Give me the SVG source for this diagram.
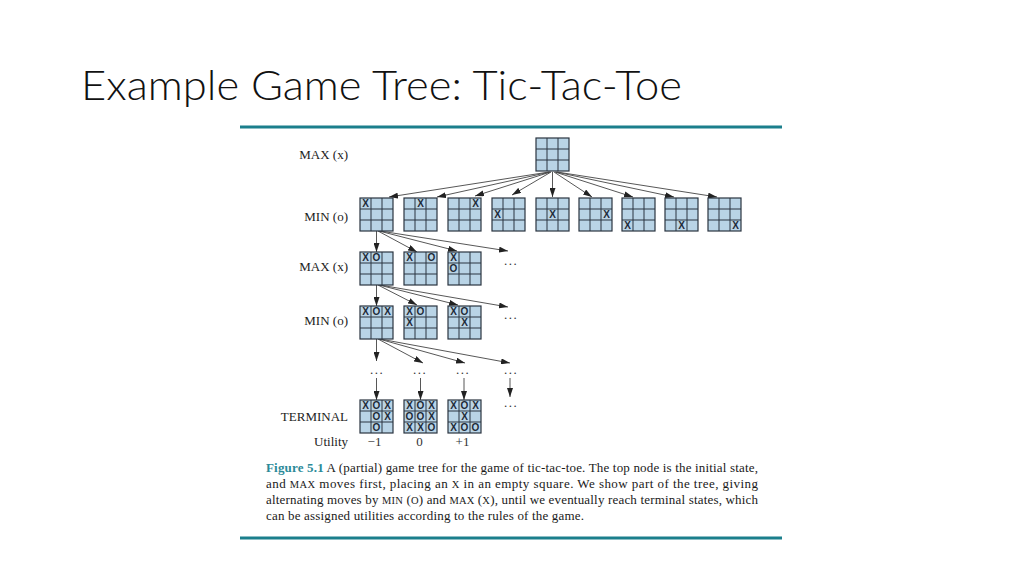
<svg xmlns="http://www.w3.org/2000/svg" xmlns:xlink="http://www.w3.org/1999/xlink" width="1024" height="576" viewBox="0 0 1024 576">
<style>
.title{font-family:Lato,"Open Sans","Liberation Sans",sans-serif;font-weight:300;font-size:42px;fill:#111}
.lbl{font-family:"Liberation Serif","DejaVu Serif",serif;font-size:13px;fill:#222}
.val{font-family:"Liberation Serif","DejaVu Serif",serif;font-size:13px;fill:#333;text-anchor:middle}
.dots{font-family:"Liberation Serif",serif;font-size:13px;fill:#333;text-anchor:middle;letter-spacing:1.5px}
.g{font-family:"Liberation Sans","DejaVu Sans",sans-serif;font-weight:bold;font-size:10px;fill:#1e2a38;text-anchor:middle;dominant-baseline:central}
.cap{font-family:"Liberation Serif","DejaVu Serif",serif;font-size:13px;fill:#1a1a1a}
.sc{font-size:10.5px}
.fig{fill:#2b8a98;font-weight:bold}
.rule{stroke:#1b7f8c;stroke-width:3}
.edge{stroke:#444;stroke-width:0.9;fill:none;marker-end:url(#ah)}
</style>
<defs>
<marker id="ah" markerWidth="9" markerHeight="6" refX="9" refY="3" orient="auto" markerUnits="userSpaceOnUse"><path d="M0,0 L9,3 L0,6 z" fill="#222"/></marker>
<g id="board">
<rect x="0" y="0" width="33" height="33" fill="#b9d4e6" stroke="#2a3440" stroke-width="1.2"/>
<path d="M11,0 V33 M22,0 V33 M0,11 H33 M0,22 H33" stroke="#2a3440" stroke-width="1"/>
</g>
</defs>
<rect width="1024" height="576" fill="#fff"/>
<text class="title" x="81" y="100" textLength="601" lengthAdjust="spacingAndGlyphs">Example Game Tree: Tic-Tac-Toe</text>
<line class="rule" x1="240" y1="127" x2="782" y2="127"/>
<line class="rule" x1="240" y1="538" x2="782" y2="538"/>

<g id="labels" class="lbl" text-anchor="end">
<text x="348" y="158.5">MAX (x)</text>
<text x="348" y="220.5">MIN (o)</text>
<text x="348" y="270.5">MAX (x)</text>
<text x="348" y="325">MIN (o)</text>
<text x="348" y="421">TERMINAL</text>
<text x="348" y="446">Utility</text>
</g>

<g id="connectors">
<line class="edge" x1="549" y1="172" x2="389" y2="197"/>
<line class="edge" x1="550" y1="172" x2="437" y2="197"/>
<line class="edge" x1="550.5" y1="172" x2="475" y2="196"/>
<line class="edge" x1="551" y1="172" x2="512" y2="195"/>
<line class="edge" x1="552.5" y1="172" x2="552.5" y2="197"/>
<line class="edge" x1="554" y1="172" x2="592" y2="197"/>
<line class="edge" x1="555" y1="172" x2="633" y2="197"/>
<line class="edge" x1="556" y1="172" x2="674" y2="197"/>
<line class="edge" x1="557" y1="172" x2="717" y2="197"/>

<line class="edge" x1="376.5" y1="231" x2="376.5" y2="252"/>
<line class="edge" x1="378" y1="231" x2="417" y2="252"/>
<line class="edge" x1="379" y1="231" x2="457" y2="251"/>
<line class="edge" x1="380" y1="231" x2="508" y2="251"/>

<line class="edge" x1="376.5" y1="285" x2="376.5" y2="306"/>
<line class="edge" x1="378" y1="285" x2="417" y2="305"/>
<line class="edge" x1="379" y1="285" x2="458" y2="305"/>
<line class="edge" x1="380" y1="285" x2="508" y2="307"/>

<line class="edge" x1="376.5" y1="339" x2="376.5" y2="361"/>
<line class="edge" x1="378" y1="339" x2="423" y2="363"/>
<line class="edge" x1="379" y1="339" x2="465" y2="363"/>
<line class="edge" x1="380" y1="339" x2="510" y2="363"/>

<line class="edge" x1="376.5" y1="378" x2="376.5" y2="400"/>
<line class="edge" x1="420.5" y1="378" x2="420.5" y2="400"/>
<line class="edge" x1="464" y1="378" x2="464" y2="400"/>
<line class="edge" x1="510" y1="378" x2="510" y2="397"/>
</g>

<g id="n-root"><use xlink:href="#board" x="536" y="138"/></g>

<g id="n-min1"><use xlink:href="#board" x="360" y="198"/><text class="g" x="365.5" y="203.5">X</text></g>
<g id="n-min2"><use xlink:href="#board" x="404" y="198"/><text class="g" x="420.5" y="203.5">X</text></g>
<g id="n-min3"><use xlink:href="#board" x="448" y="198"/><text class="g" x="475.5" y="203.5">X</text></g>
<g id="n-min4"><use xlink:href="#board" x="492" y="198"/><text class="g" x="497.5" y="214.5">X</text></g>
<g id="n-min5"><use xlink:href="#board" x="536" y="198"/><text class="g" x="552.5" y="214.5">X</text></g>
<g id="n-min6"><use xlink:href="#board" x="579" y="198"/><text class="g" x="606.5" y="214.5">X</text></g>
<g id="n-min7"><use xlink:href="#board" x="622" y="198"/><text class="g" x="627.5" y="225.5">X</text></g>
<g id="n-min8"><use xlink:href="#board" x="665" y="198"/><text class="g" x="681.5" y="225.5">X</text></g>
<g id="n-min9"><use xlink:href="#board" x="708" y="198"/><text class="g" x="735.5" y="225.5">X</text></g>

<g id="n-max1"><use xlink:href="#board" x="360" y="252"/><text class="g" x="365.5" y="257.5">X</text><text class="g" x="376.5" y="257.5">O</text></g>
<g id="n-max2"><use xlink:href="#board" x="404" y="252"/><text class="g" x="409.5" y="257.5">X</text><text class="g" x="431.5" y="257.5">O</text></g>
<g id="n-max3"><use xlink:href="#board" x="448" y="252"/><text class="g" x="453.5" y="257.5">X</text><text class="g" x="453.5" y="268.5">O</text></g>
<text class="dots" x="511" y="265">...</text>

<g id="n-min21"><use xlink:href="#board" x="360" y="306"/><text class="g" x="365.5" y="311.5">X</text><text class="g" x="376.5" y="311.5">O</text><text class="g" x="387.5" y="311.5">X</text></g>
<g id="n-min22"><use xlink:href="#board" x="404" y="306"/><text class="g" x="409.5" y="311.5">X</text><text class="g" x="420.5" y="311.5">O</text><text class="g" x="409.5" y="322.5">X</text></g>
<g id="n-min23"><use xlink:href="#board" x="448" y="306"/><text class="g" x="453.5" y="311.5">X</text><text class="g" x="464.5" y="311.5">O</text><text class="g" x="464.5" y="322.5">X</text></g>
<text class="dots" x="511" y="319">...</text>

<text class="dots" x="377" y="374">...</text>
<text class="dots" x="420" y="374">...</text>
<text class="dots" x="463" y="374">...</text>
<text class="dots" x="511" y="374">...</text>
<text class="dots" x="511" y="407">...</text>

<g id="n-t1"><use xlink:href="#board" x="360" y="400"/>
<text class="g" x="365.5" y="405.5">X</text><text class="g" x="376.5" y="405.5">O</text><text class="g" x="387.5" y="405.5">X</text>
<text class="g" x="376.5" y="416.5">O</text><text class="g" x="387.5" y="416.5">X</text>
<text class="g" x="376.5" y="427.5">O</text></g>
<g id="n-t2"><use xlink:href="#board" x="404" y="400"/>
<text class="g" x="409.5" y="405.5">X</text><text class="g" x="420.5" y="405.5">O</text><text class="g" x="431.5" y="405.5">X</text>
<text class="g" x="409.5" y="416.5">O</text><text class="g" x="420.5" y="416.5">O</text><text class="g" x="431.5" y="416.5">X</text>
<text class="g" x="409.5" y="427.5">X</text><text class="g" x="420.5" y="427.5">X</text><text class="g" x="431.5" y="427.5">O</text></g>
<g id="n-t3"><use xlink:href="#board" x="448" y="400"/>
<text class="g" x="453.5" y="405.5">X</text><text class="g" x="464.5" y="405.5">O</text><text class="g" x="475.5" y="405.5">X</text>
<text class="g" x="464.5" y="416.5">X</text>
<text class="g" x="453.5" y="427.5">X</text><text class="g" x="464.5" y="427.5">O</text><text class="g" x="475.5" y="427.5">O</text></g>

<text class="val" x="374.5" y="446">−1</text>
<text class="val" x="419.5" y="446">0</text>
<text class="val" x="462.5" y="446">+1</text>

<g id="caption" class="cap">
<text x="266" y="472" textLength="492" lengthAdjust="spacing"><tspan class="fig">Figure 5.1</tspan>  A (partial) game tree for the game of tic-tac-toe. The top node is the initial state,</text>
<text x="266" y="488" textLength="492" lengthAdjust="spacing">and <tspan class="sc">MAX</tspan> moves first, placing an <tspan class="sc">X</tspan> in an empty square.  We show part of the tree, giving</text>
<text x="266" y="504" textLength="492" lengthAdjust="spacing">alternating moves by <tspan class="sc">MIN</tspan> (<tspan class="sc">O</tspan>) and <tspan class="sc">MAX</tspan> (<tspan class="sc">X</tspan>), until we eventually reach terminal states, which</text>
<text x="266" y="520" textLength="318" lengthAdjust="spacing">can be assigned utilities according to the rules of the game.</text>
</g>
</svg>
